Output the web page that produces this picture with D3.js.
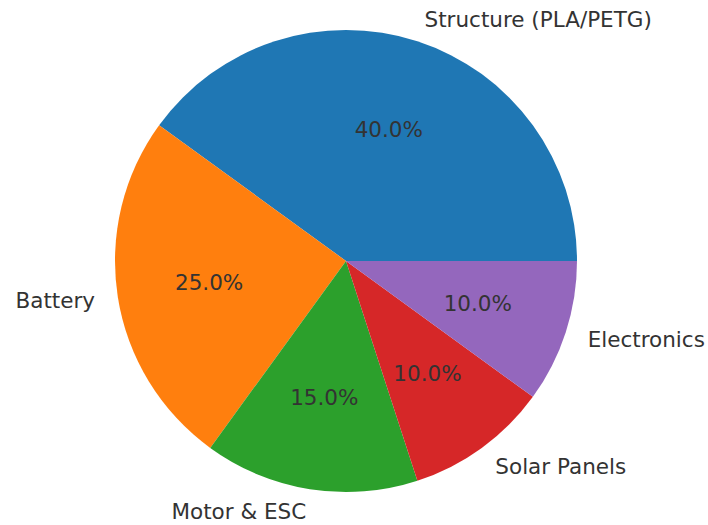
<!DOCTYPE html>
<html><head><meta charset="utf-8">
<script src="https://cdn.jsdelivr.net/npm/d3@7"></script>
<style>body{margin:0;background:#fff}</style>
</head><body>
<script>
const categories = ["Structure (PLA/PETG)", "Battery", "Motor & ESC", "Solar Panels", "Electronics"];
const values = [40, 25, 15, 10, 10];
const colors = ["#1f77b4", "#ff7f0e", "#2ca02c", "#d62728", "#9467bd"];

const W = 708, H = 525, cx = 346, cy = 261, R = 231;
const svg = d3.select("body").append("svg").attr("width", W).attr("height", H);
const g = svg.append("g").attr("transform", `translate(${cx},${cy})`);

const pie = d3.pie().sort(null).value(d => d)
  .startAngle(Math.PI / 2).endAngle(Math.PI / 2 - 2 * Math.PI);
const arcs = pie(values);
const arc = d3.arc().innerRadius(0).outerRadius(R);
const total = d3.sum(values);

g.selectAll("path").data(arcs).enter().append("path")
  .attr("d", arc).attr("fill", (d, i) => colors[i]);

const font = "DejaVu Sans, sans-serif";
const fs = 21.5;
arcs.forEach((d, i) => {
  const mid = (d.startAngle + d.endAngle) / 2; // d3 angle
  const sx = Math.sin(mid), sy = -Math.cos(mid);
  const lx = 1.1 * R * sx, ly = 1.1 * R * sy;
  g.append("text").attr("x", lx).attr("y", ly)
    .attr("text-anchor", lx > 0 ? "start" : "end")
    .attr("dominant-baseline", "central")
    .attr("font-family", font).attr("font-size", fs).attr("fill", "#333")
    .text(categories[i]);
  g.append("text").attr("x", 0.6 * R * sx).attr("y", 0.6 * R * sy)
    .attr("text-anchor", "middle").attr("dominant-baseline", "central")
    .attr("font-family", font).attr("font-size", fs).attr("fill", "#333")
    .text((values[i] / total * 100).toFixed(1) + "%");
});
</script>
</body></html>
